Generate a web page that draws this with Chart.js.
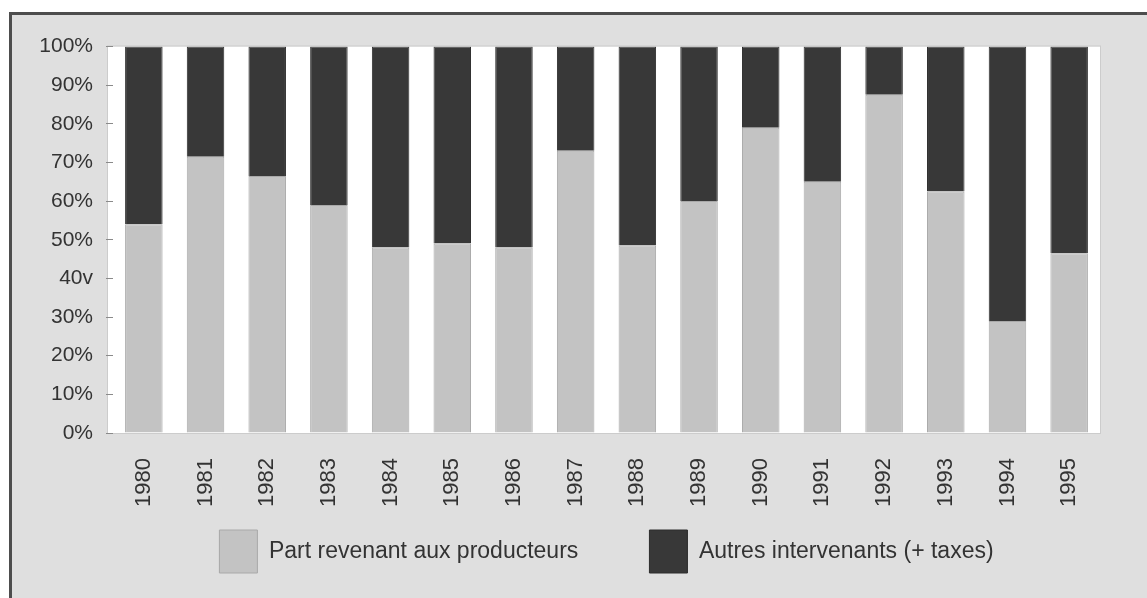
<!DOCTYPE html>
<html>
<head>
<meta charset="utf-8">
<script src="https://cdn.jsdelivr.net/npm/chart.js@4.4.0/dist/chart.umd.min.js"></script>
<style>
  html, body { margin: 0; padding: 0; background: #ffffff; overflow: hidden; }
  #frame {
    position: absolute; left: 9px; top: 12px; width: 1200px; height: 650px;
    background: #dfdfdf; border-top: 3px solid #4d4d4d; border-left: 3px solid #4d4d4d;
  }
  #chart { position: absolute; left: 0; top: 0; }
</style>
</head>
<body>
<div id="frame"></div>
<canvas id="chart" width="1147" height="598"></canvas>
<script>
const years = ["1980", "1981", "1982", "1983", "1984", "1985", "1986", "1987",
  "1988", "1989", "1990", "1991", "1992", "1993", "1994", "1995"];
// share going to producers (%)
const producerShare = [54, 71.5, 66.5, 59, 48, 49, 48, 73, 48.5, 60, 79, 65, 87.5, 62.5, 29, 46.5];
// the rest of each bar up to 100 %
const otherShare = [46, 28.5, 33.5, 41, 52, 51, 52, 27, 51.5, 40, 21, 35, 12.5, 37.5, 71, 53.5];
const yTickLabels = ["0%", "10%", "20%", "30%", "40v", "50%", "60%", "70%", "80%", "90%", "100%"];

const seriesLabels = ["Part revenant aux producteurs", "Autres intervenants (+ taxes)"];

// white plot background, a bit wider on the left like the original
const plotBackground = {
  id: "plotBackground",
  beforeDraw(chart) {
    const { ctx, chartArea } = chart;
    ctx.save();
    ctx.fillStyle = "#ffffff";
    ctx.fillRect(chartArea.left - 5, chartArea.top, chartArea.right - chartArea.left + 5, chartArea.bottom - chartArea.top);
    ctx.strokeStyle = "#cccccc";
    ctx.lineWidth = 1;
    ctx.strokeRect(chartArea.left - 5.5, chartArea.top - 0.5, chartArea.right - chartArea.left + 6, chartArea.bottom - chartArea.top + 1);
    ctx.restore();
  }
};

const font = "'Liberation Sans', Arial, Helvetica, sans-serif";

new Chart(document.getElementById("chart"), {
  type: "bar",
  data: {
    labels: years,
    datasets: [
      {
        label: seriesLabels[0],
        data: producerShare,
        backgroundColor: "#c3c3c3",
        borderColor: "#a9a9a9",
        borderWidth: 1,
      },
      {
        label: seriesLabels[1],
        data: otherShare,
        backgroundColor: "#383838",
        borderColor: "#2c2c2c",
        borderWidth: 1,
      },
    ],
  },
  options: {
    responsive: false,
    animation: false,
    categoryPercentage: 1,
    barPercentage: 0.608,
    layout: {
      padding: { left: 0, right: 47, top: 46.5, bottom: 15 },
    },
    scales: {
      x: {
        stacked: true,
        grid: { display: false, drawTicks: false },
        border: { display: false },
        ticks: {
          autoSkip: false,
          maxRotation: 90,
          minRotation: 90,
          padding: 25,
          color: "#333333",
          font: { family: font, size: 22 },
        },
        afterFit: function (scale) {
          scale.height = 77;
        },
      },
      y: {
        stacked: true,
        min: 0,
        max: 100,
        border: { display: false },
        grid: {
          drawOnChartArea: false,
          drawTicks: true,
          tickLength: 7,
          color: "#8a8a8a",
        },
        ticks: {
          stepSize: 10,
          padding: 13,
          color: "#333333",
          font: { family: font, size: 21 },
          callback: function (value) {
            return yTickLabels[Math.round(value / 10)];
          },
        },
        afterFit: function (scale) {
          scale.width = 113;
        },
      },
    },
    plugins: {
      tooltip: { enabled: false },
      legend: {
        position: "bottom",
        fullSize: false,
        labels: {
          boxWidth: 38,
          boxHeight: 43,
          padding: 20,
          color: "#333333",
          font: { family: font, size: 23 },
          generateLabels: function (chart) {
            const items = Chart.defaults.plugins.legend.labels.generateLabels(chart);
            // wider gap between the two legend entries
            items[0].text = items[0].text + "\u00a0".repeat(8);
            return items;
          },
        },
      },
    },
  },
  plugins: [plotBackground],
});
</script>
</body>
</html>
